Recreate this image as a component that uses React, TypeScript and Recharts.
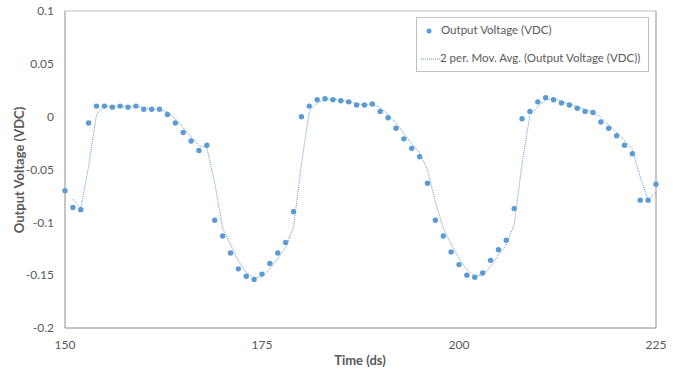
import {
  ComposedChart,
  XAxis,
  YAxis,
  Scatter,
  Line,
  Legend,
  ReferenceLine,
} from 'recharts';

const TIME = [
  150, 151, 152, 153, 154, 155, 156, 157, 158, 159,
  160, 161, 162, 163, 164, 165, 166, 167, 168, 169,
  170, 171, 172, 173, 174, 175, 176, 177, 178, 179,
  180, 181, 182, 183, 184, 185, 186, 187, 188, 189,
  190, 191, 192, 193, 194, 195, 196, 197, 198, 199,
  200, 201, 202, 203, 204, 205, 206, 207, 208, 209,
  210, 211, 212, 213, 214, 215, 216, 217, 218, 219,
  220, 221, 222, 223, 224, 225,
];

const VOLTAGE = [
  -0.07, -0.086, -0.088, -0.006, 0.01, 0.01, 0.009, 0.01, 0.009, 0.01,
  0.007, 0.007, 0.007, 0.002, -0.006, -0.015, -0.023, -0.032, -0.027, -0.098,
  -0.113, -0.129, -0.144, -0.151, -0.154, -0.149, -0.139, -0.129, -0.119, -0.09,
  0.0, 0.01, 0.016, 0.017, 0.016, 0.015, 0.014, 0.011, 0.011, 0.012,
  0.005, -0.001, -0.011, -0.021, -0.03, -0.038, -0.063, -0.098, -0.113, -0.128,
  -0.14, -0.15, -0.152, -0.148, -0.136, -0.126, -0.117, -0.087, -0.002, 0.005,
  0.014, 0.018, 0.016, 0.013, 0.011, 0.008, 0.005, 0.004, -0.005, -0.011,
  -0.018, -0.027, -0.035, -0.079, -0.079, -0.064,
];

const X_TICKS = [150, 175, 200, 225];
const Y_TICKS = [-0.2, -0.15, -0.1, -0.05, 0, 0.05, 0.1];

const BLUE = '#5B9BD5';
const TEXT = '#595959';
const FONT = 'Lato, "Open Sans", sans-serif';

// 2 period moving average, same as the Excel trendline
const rows = TIME.map((t, i) => ({
  t,
  v: VOLTAGE[i],
  ma: i > 0 ? (VOLTAGE[i - 1] + VOLTAGE[i]) / 2 : null,
}));

function Dot(props: any) {
  const { cx, cy } = props;
  if (cx == null || cy == null) return null;
  return <circle cx={cx} cy={cy} r={2.7} fill={BLUE} />;
}

function LegendBox() {
  return (
    <div
      style={{
        width: 233,
        height: 55,
        border: '1px solid #bfbfbf',
        background: '#fff',
        fontFamily: FONT,
        fontSize: 11.5,
        color: TEXT,
        boxSizing: 'border-box',
        whiteSpace: 'nowrap',
      }}
    >
      <div style={{ position: 'relative', height: 27 }}>
        <svg width={20} height={27} style={{ position: 'absolute', left: 4, top: 0 }}>
          <circle cx={8} cy={13} r={2.5} fill={BLUE} />
        </svg>
        <span style={{ position: 'absolute', left: 24, top: 5 }}>Output Voltage (VDC)</span>
      </div>
      <div style={{ position: 'relative', height: 27 }}>
        <svg width={22} height={27} style={{ position: 'absolute', left: 3, top: 0 }}>
          <line x1={1} y1={14} x2={20} y2={14} stroke={BLUE} strokeWidth={1} strokeDasharray="1 1" />
        </svg>
        <span style={{ position: 'absolute', left: 23, top: 6 }}>
          2 per. Mov. Avg. (Output Voltage (VDC))
        </span>
      </div>
    </div>
  );
}

export default function App() {
  return (
    <div style={{ position: 'absolute', left: 0, top: 0, background: '#fff' }}>
      <ComposedChart
        width={673}
        height={380}
        data={rows}
        margin={{ top: 11, right: 17, bottom: 0, left: 0 }}
      >
        <XAxis
          dataKey="t"
          type="number"
          domain={[150, 225]}
          ticks={X_TICKS}
          interval={0}
          stroke="#8c8c8c"
          tickLine={false}
          tickSize={0}
          tickMargin={12}
          height={52}
          tick={{ fill: TEXT, fontSize: 12, fontFamily: FONT }}
          label={{
            content: () => (
              <text
                x={360}
                y={365}
                textAnchor="middle"
                fill={TEXT}
                fontSize={13}
                fontWeight={700}
                fontFamily={FONT}
              >
                Time (ds)
              </text>
            ),
          }}
        />
        <YAxis
          type="number"
          domain={[-0.2, 0.1]}
          ticks={Y_TICKS}
          interval={0}
          width={65}
          stroke="#8c8c8c"
          tickLine={false}
          tickSize={0}
          tickMargin={11}
          tickFormatter={(v: number) => String(v)}
          tick={{ fill: TEXT, fontSize: 12, fontFamily: FONT }}
          label={{
            content: () => (
              <text
                x={24}
                y={170}
                transform="rotate(-90 24 170)"
                textAnchor="middle"
                fill={TEXT}
                fontSize={13}
                fontWeight={700}
                fontFamily={FONT}
              >
                Output Voltage (VDC)
              </text>
            ),
          }}
        />
        <ReferenceLine y={0.1} stroke="#bfbfbf" />
        <ReferenceLine x={225} stroke="#8c8c8c" />
        <Line
          dataKey="ma"
          type="linear"
          stroke={BLUE}
          strokeWidth={1}
          strokeDasharray="1 1"
          dot={false}
          activeDot={false}
          connectNulls={false}
          isAnimationActive={false}
        />
        <Scatter dataKey="v" fill={BLUE} shape={<Dot />} isAnimationActive={false} />
        <Legend
          layout="vertical"
          align="center"
          verticalAlign="middle"
          wrapperStyle={{ top: 17, left: 416, width: 233 }}
          content={() => <LegendBox />}
        />
      </ComposedChart>
    </div>
  );
}
